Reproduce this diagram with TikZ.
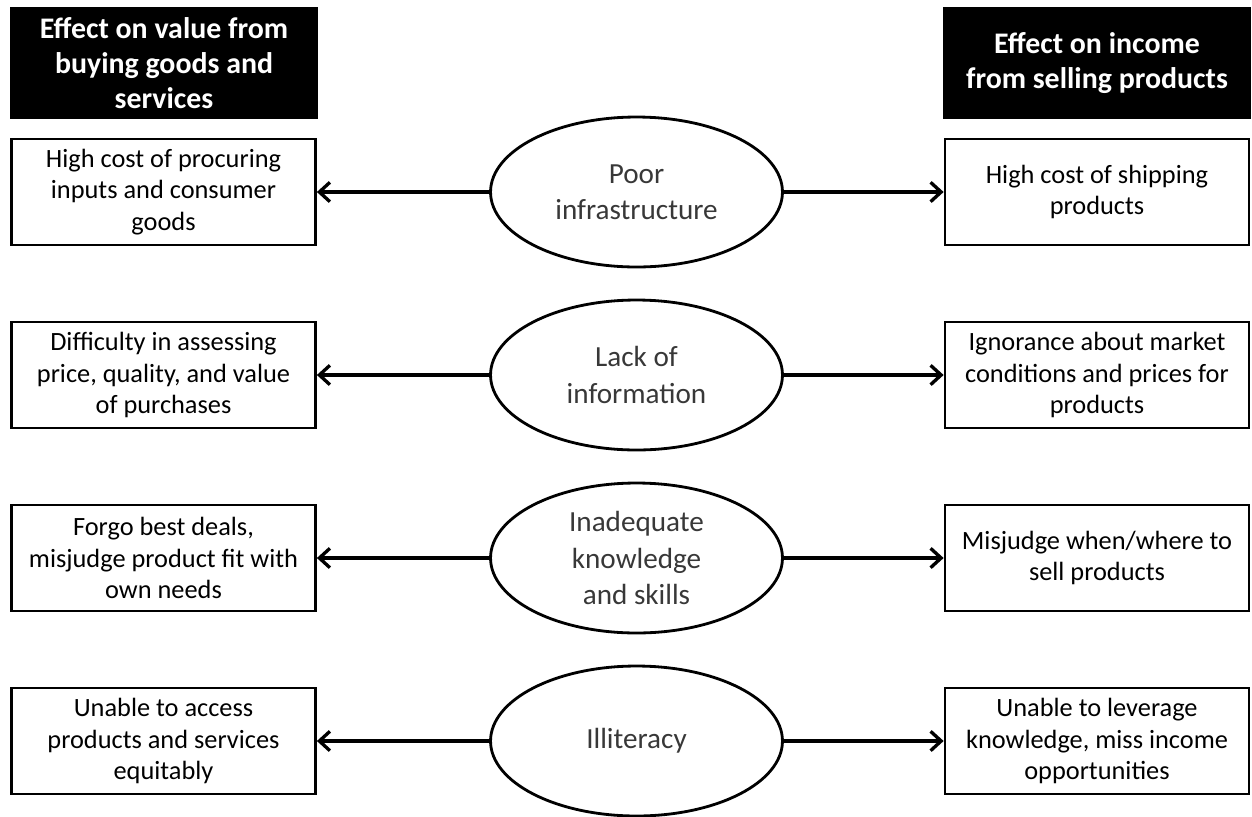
\documentclass[tikz,border=0pt]{standalone}
\usepackage{fontspec}
\setmainfont{Carlito}
\usetikzlibrary{shapes.geometric, arrows.meta}

\begin{document}
\begin{tikzpicture}[x=0.02cm, y=-0.02cm,
	head/.style = {fill=black, text=white, font=\fontsize{17}{19.8}\selectfont\bfseries,
		align=center, minimum width=6.16cm, minimum height=2.24cm, inner sep=0pt},
	effect/.style = {draw, line width=1.6pt, font=\fontsize{15}{18.1}\selectfont,
		align=center, minimum width=6.08cm, minimum height=2.12cm, inner sep=0pt},
	cause/.style = {ellipse, draw, line width=1.6pt, text=black!78, font=\fontsize{16.6}{20.7}\selectfont,
		align=center, minimum width=5.84cm, minimum height=3.0cm, inner sep=0pt},
	link/.style = {line width=1.9pt, -{Straight Barb[length=6pt, width=11pt]}}
]
\clip (0, 0) rectangle (1252, 816);

% column headings
\node[head] (buyhead) at (164, 63) {Effect on value from\\ buying goods and\\ services};
\node[head] (sellhead) at (1097, 63) {Effect on income\\ from selling products};

% causes
\node[cause] (infra) at (636.5, 192) {Poor\\ infrastructure};
\node[cause] (info) at (636.5, 375) {Lack of\\ information};
\node[cause] (skills) at (636.5, 558) {Inadequate\\ knowledge\\ and skills};
\node[cause] (illit) at (636.5, 741) {Illiteracy};

% effects on buying
\node[effect] (buyinfra) at (163.5, 192) {High cost of procuring\\ inputs and consumer\\ goods};
\node[effect] (buyinfo) at (163.5, 375) {Difficulty in assessing\\ price, quality, and value\\ of purchases};
\node[effect] (buyskills) at (163.5, 558) {Forgo best deals,\\ misjudge product fit with\\ own needs};
\node[effect] (buyillit) at (163.5, 741) {Unable to access\\ products and services\\ equitably};

% effects on selling
\node[effect] (sellinfra) at (1097, 192) {High cost of shipping\\ products};
\node[effect] (sellinfo) at (1097, 375) {Ignorance about market\\ conditions and prices for\\ products};
\node[effect] (sellskills) at (1097, 558) {Misjudge when/where to\\ sell products};
\node[effect] (sellillit) at (1097, 741) {Unable to leverage\\ knowledge, miss income\\ opportunities};

\draw[link] (infra) -- (buyinfra);
\draw[link] (infra) -- (sellinfra);
\draw[link] (info) -- (buyinfo);
\draw[link] (info) -- (sellinfo);
\draw[link] (skills) -- (buyskills);
\draw[link] (skills) -- (sellskills);
\draw[link] (illit) -- (buyillit);
\draw[link] (illit) -- (sellillit);
\end{tikzpicture}
\end{document}
